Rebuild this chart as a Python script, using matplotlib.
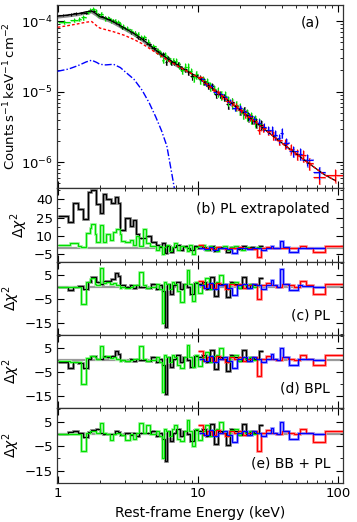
import numpy as np
import matplotlib
matplotlib.use("Agg")
import matplotlib.pyplot as plt
from matplotlib.ticker import FuncFormatter, FixedLocator, AutoMinorLocator

# ---- model curves, flux in units of 1e-5 counts/s/keV/cm2 ----
model_e = [1.0, 1.2, 1.4, 1.6, 1.75, 1.9, 2.0, 2.2, 2.5, 3.0, 3.5, 4.0, 5.0,
           6.0, 7.0, 8.0, 10, 15, 20, 30, 40, 50, 60, 80, 95]
model_total = [11.8, 12.3, 12.8, 13.6, 14.0, 12.6, 11.6, 11.0, 9.8, 8.0, 6.7,
               5.6, 3.9, 3.0, 2.45, 2.08, 1.6, 0.86, 0.55, 0.29, 0.185, 0.132,
               0.10, 0.066, 0.055]
model_pl = [8.2, 8.7, 9.2, 9.7, 9.9, 8.6, 8.0, 7.6, 7.1, 6.3, 5.5, 4.8, 3.6,
            2.85, 2.38, 2.05, 1.6, 0.86, 0.55, 0.29, 0.185, 0.132, 0.10,
            0.066, 0.055]
bb_e = [1.0, 1.2, 1.4, 1.6, 1.75, 1.9, 2.0, 2.2, 2.5, 2.8, 3.0, 3.5, 4.0, 4.5,
        5.0, 5.5, 6.0, 6.5, 7.0]
bb_flux = [1.95, 2.1, 2.35, 2.65, 2.8, 2.6, 2.45, 2.4, 2.45, 2.2, 1.95, 1.5,
           1.05, 0.69, 0.44, 0.28, 0.17, 0.07, 0.03]

# ---- black (pn) ----
blk_edges = [1.01, 1.19, 1.29, 1.40, 1.52, 1.65, 1.74, 1.89, 1.99, 2.11, 2.23,
             2.41, 2.55, 2.69, 2.77, 3.00, 3.26, 3.44, 3.63, 3.83, 4.27, 4.64,
             5.04, 5.3, 5.55, 5.8, 6.0, 6.3, 6.6, 7.0, 7.4, 7.8, 8.3, 8.8, 9.4,
             10.0, 10.7, 11.4, 12.2, 13.0, 13.9, 14.8, 15.8, 16.9, 18.0, 19.3,
             20.6, 22.0, 23.5, 25.2, 27.0, 29.0]
blk_flux = [12.2, 12.5, 12.9, 13.1, 13.3, 14.2, 14.0, 12.5, 11.9, 11.5, 10.9,
            10.2, 9.7, 9.1, 8.2, 7.8, 7.0, 6.8, 6.0, 5.6, 4.7, 4.2, 3.8, 3.45,
            3.4, 2.6, 3.0, 2.6, 2.6, 2.45, 2.15, 2.1, 1.9, 1.65, 1.72, 1.56,
            1.42, 1.22, 1.2, 0.92, 0.92, 0.84, 0.66, 0.71, 0.63, 0.55, 0.54,
            0.445, 0.41, 0.36, 0.34]
blk_relerr = [0.04, 0.04, 0.04, 0.04, 0.04, 0.04, 0.04, 0.04, 0.04, 0.04,
              0.045, 0.045, 0.05, 0.05, 0.05, 0.05, 0.055, 0.055, 0.055, 0.06,
              0.06, 0.065, 0.07, 0.07, 0.07, 0.08, 0.08, 0.08, 0.08, 0.09,
              0.09, 0.09, 0.1, 0.1, 0.1, 0.1, 0.11, 0.11, 0.11, 0.12, 0.12,
              0.12, 0.13, 0.13, 0.13, 0.14, 0.14, 0.15, 0.15, 0.16, 0.16]
blk_res_b = [26, 21, 37, 32, 24, 46, 47, 36, 29, 44, 40, 37, 42, 37, 15, 25,
             18, 23, 12, 8, 10, 5.5, 3, 1, 4, -4, 2, -3, 1, 3, -1, 2, 0.5, -1,
             2, 0.5, 1, -1, 2, -2, 1, 0.5, -3, 1, 0.5, -0.5, 2, 0, 1, 0.5, 1.5]
blk_res_c = [0, -1.5, -0.3, 0.3, -1, 1.8, 4, 2, 1, 2.5, 2.5, 3, 5.5, 4.5, 0.5,
             0, 0.5, -0.5, 0.5, 0, -0.5, 1, -1, 0.5, -2, -17, 1, -3, 0.5, 2,
             -1, 1, 0, -3, 1.5, 1, 2, -1, 4, -4, 1, 0.5, -4.5, 2, 1, -0.5, 4,
             -0.5, 1, 0.5, 3.5]
blk_res_d = [-0.8, -3.5, -0.8, -1.5, -3.5, 0.5, 1.5, 0.5, 0.3, 1.5, 1.2, 1.5,
             3.8, 2.5, 0, -0.5, 0.5, -0.5, 0.5, 0, -0.5, 1, -1, 0.5, -2, -14,
             1, -3, 0.5, 2, -1, 1, 0, -3, 1.5, 1, 2, -1, 4, -4, 1, 0.5, -4.5,
             2, 1, -0.5, 4, -0.5, 1, 0.5, 3.5]
blk_res_e = [0, 0.7, 1, 0.5, -1.2, 0.6, 1.6, 2, 0.2, 0, 0, 0, 1.2, 0.6, -0.3,
             0.3, -0.5, 0.5, -1, 0.5, 0.3, 1, -1, 0.5, -2, -11, 1, -3, 0.5, 2,
             -1, 1, 0, -3, 1.5, 1, 2, -1, 4, -4, 1, 0.5, -4.5, 2, 1, -0.5, 4,
             -0.5, 1, 0.5, 3.5]

# ---- green (MOS) ----
grn_edges = [1.01, 1.22, 1.40, 1.46, 1.60, 1.69, 1.74, 1.84, 1.89, 1.99, 2.11,
             2.23, 2.35, 2.48, 2.62, 2.77, 2.84, 3.00, 3.26, 3.44, 3.63, 3.83,
             4.05, 4.27, 4.52, 5.04, 5.25, 5.5, 5.7, 5.9, 6.2, 6.5, 6.8, 7.1,
             7.5, 7.9, 8.3, 8.7, 9.1, 9.5, 10.0, 10.6, 11.2, 11.9, 12.6, 13.4,
             14.2, 15.1, 16.0, 17.0, 18.1, 19.2, 20.4, 21.7, 23.1, 24.6, 26.2,
             28.0]
grn_flux = [9.8, 10.5, 10.8, 11.3, 13.5, 14.5, 15.0, 13.8, 12.3, 12.8, 11.0,
            11.2, 10.3, 10.2, 9.8, 9.0, 8.4, 7.8, 7.3, 6.7, 6.6, 5.9, 5.9, 5.1,
            4.4, 3.85, 3.5, 2.8, 3.3, 3.05, 2.75, 2.75, 2.7, 2.35, 2.0, 2.25,
            2.25, 1.95, 1.6, 1.76, 1.5, 1.45, 1.38, 1.2, 1.08, 1.0, 0.9, 0.88,
            0.75, 0.69, 0.64, 0.58, 0.50, 0.48, 0.43, 0.39, 0.35]
grn_relerr = [0.07, 0.07, 0.07, 0.07, 0.07, 0.07, 0.07, 0.07, 0.07, 0.07,
              0.07, 0.07, 0.07, 0.07, 0.07, 0.08, 0.08, 0.08, 0.08, 0.08,
              0.08, 0.09, 0.09, 0.09, 0.09, 0.1, 0.1, 0.1, 0.1, 0.1, 0.11,
              0.11, 0.11, 0.11, 0.12, 0.12, 0.12, 0.12, 0.13, 0.13, 0.13, 0.14,
              0.14, 0.14, 0.15, 0.15, 0.15, 0.16, 0.16, 0.17, 0.17, 0.18, 0.18,
              0.19, 0.19, 0.2, 0.2]
grn_res_b = [2.5, 4.3, 2, 1, 12.4, 16.5, 20, 12, 5, 19, 5, 12, 7, 13, 16, 12,
             6, 5, 7, 3, 10, 2, 16, 4, 2,
             -1, 2, -5, 1, 3, -2, 1, 4, -1, 2, 1, -2, 3, -5, 1, 2, 3, -1, 2, 1,
             -2, 0.5, 1.5, -1, 1, 2, 0, -1, 1, 0.5, 0, 1]
grn_res_c = [-0.3, -0.3, 0, -7.3, 2, 3, 3.5, 1, 0.5, 7.9, 1.5, 2, 1, 1.5, 0.5,
             -0.5, 0, -0.5, 0, 0.5, 0.5, 6, 0.5, -0.5, 0,
             1, -1, -15, 2, 1, -1, 2, 1, -2, -6.6, 1, 6.8, 1, -6, 2, -2.5, 1,
             3.4, -1, 1.5, 2, 4.7, 1, -1, 1.5, 2, -0.5, 1, 0.5, 1, 0, 0.5]
grn_res_d = [-0.3, -1, -1, -10, 0.8, 1.5, 1.5, 1, 0.5, 5.8, 1, 1.5, 0.8, 1,
             0.5, -0.5, 0, -0.5, 0, 0.5, 0.5, 5.8, 0.5, -0.5, 0,
             1, -1, -13.5, 2, 1, -1, 2, 1, -2, -3.5, 1, 6, 1, -3, 2, -2.5, 1,
             3.4, -1, 1.5, 2, 4.7, 1, -1, 1.5, 2, -0.5, 1, 0.5, 1, 0, 0.5]
grn_res_e = [0, 0, 0, -6.8, 0.5, 1, 1, 1, 0.5, 4.6, 0.5, 0, -2.7, 0, 0.5, 0,
             -0.5, -2.7, 0, -2, 0.5, 4.6, 0.5, 3.5, 0,
             1, -1, -10, 2, 1, -1, 2, 3.5, -2, -3, 1, 5.8, 1, -5, 2, -2.5, 1,
             3.4, -1, 1.5, 2, 4.7, 1, -1, 1.5, 2, -0.5, 1, 0.5, 1, 0, 0.5]

# ---- red (FPMA) ----
red_edges = [10.0, 10.8, 11.6, 12.5, 13.4, 14.4, 15.5, 16.7, 18.0, 19.4, 20.9,
             22.5, 24.2, 26.3, 28.0, 30.5, 33.0, 36.0, 39.5, 43.5, 48.0, 53.5,
             58.5, 66.0, 81.0, 112.0]
red_flux = [1.6, 1.34, 1.22, 1.05, 0.98, 0.87, 0.75, 0.70, 0.62, 0.555, 0.48,
            0.435, 0.39, 0.29, 0.31, 0.28, 0.24, 0.207, 0.182, 0.155, 0.13,
            0.125, 0.097, 0.062, 0.066]
red_relerr = [0.06, 0.06, 0.07, 0.07, 0.08, 0.08, 0.09, 0.09, 0.1, 0.1, 0.11,
              0.11, 0.12, 0.13, 0.13, 0.14, 0.15, 0.15, 0.16, 0.17, 0.18, 0.19,
              0.2, 0.2, 0.22]
red_res_b = [2.9, 0, 0.5, -0.5, 1, 0, -0.5, 0.5, 0, 1, 0, 0.5, -0.5, -6.7, 0.5,
             1, 0.5, 0, 0.5, 0.5, 0, 2, 0, -2.6, 1.5]
red_res_c = [2.5, -0.5, 1, -0.5, 1.5, 0.5, -1, 1, 0.5, 1, -0.5, 0.5, 1, -5.2,
             0.5, 1.5, 0.5, 0, 1, 0.5, 0, 2.5, 0.5, -3.1, 1.1]
red_res_d = [3.8, -0.5, 1, -0.5, 1.5, 0.5, -1, 1, 0.5, 1, -0.5, 0.5, 1, -6.9,
             0.5, 1.5, 0.5, 0, 1, 0.5, 0, 1.8, 0.5, -2.2, 1.8]
red_res_e = [3.5, -0.5, 1, -0.5, 1.5, 0.5, -1, 1, 0.5, 1, -0.5, 0.5, 1, -6.8,
             0.5, 1.5, 0.5, 0, 1, 0.5, 0, 2, 0.5, -3.4, 1.2]

# ---- blue (FPMB) ----
blu_edges = [10.2, 11.0, 11.9, 12.9, 13.9, 15.0, 16.2, 17.6, 19.1, 20.6, 22.3,
             24.1, 26.0, 28.2, 30.5, 32.9, 34.5, 36.5, 38.7, 40.1, 44.4, 51.4,
             55.0, 66.0, 81.0]
blu_flux = [1.5, 1.29, 1.2, 1.0, 0.93, 0.84, 0.72, 0.58, 0.58, 0.52, 0.45,
            0.41, 0.365, 0.315, 0.29, 0.285, 0.245, 0.22, 0.26, 0.19, 0.145,
            0.132, 0.109, 0.072]
blu_relerr = [0.06, 0.06, 0.07, 0.07, 0.08, 0.08, 0.09, 0.09, 0.1, 0.1, 0.11,
              0.11, 0.12, 0.13, 0.13, 0.14, 0.15, 0.15, 0.16, 0.17, 0.18, 0.19,
              0.2, 0.2]
blu_res_b = [0.5, -0.5, 1, -1, 0.5, 0.5, -0.5, -3.5, 0.5, 0.5, -0.5, 0.5, 0.5,
             -1, 0.5, 1.5, 0.5, 0, 5.6, 1, -2.6, 0.5, 0.3, 0]
blu_res_c = [0.5, -0.5, 1.5, -1, 0.5, 1, -0.5, -3.5, 0.5, 1, -0.5, 1, 0.5, -1,
             0.5, 2.8, 0.5, 0, 7.5, 1, -1.6, 0.5, 0.3, 0]
blu_res_d = [0.5, -0.5, 1.5, -1, 0.5, 1, -0.5, -3.5, 0.5, 1, -0.5, 1, 0.5, -1,
             0.5, 2.5, 0.5, 0, 5.1, 1, -2.2, 0.5, 0.3, 0]
blu_res_e = [0.5, -0.5, 1.5, -1, 0.5, 1, -0.5, -3.4, 0.5, 1, -0.5, 1, 0.5, -1,
             0.5, 2.5, 0.5, 0, 4.8, 1, -2.1, 0.5, 0.3, 0]

panel_labels = ["(b) PL extrapolated", "(c) PL", "(d) BPL", "(e) BB + PL"]

# (colour, shadow colour, edges, flux, relerr, [res b, c, d, e])
sets = [
    ("black", "#8c8c8c", blk_edges, blk_flux, blk_relerr,
     [blk_res_b, blk_res_c, blk_res_d, blk_res_e]),
    ("#00e000", "#a6f5a6", grn_edges, grn_flux, grn_relerr,
     [grn_res_b, grn_res_c, grn_res_d, grn_res_e]),
    ("red", "#ff9c9c", red_edges, red_flux, red_relerr,
     [red_res_b, red_res_c, red_res_d, red_res_e]),
    ("blue", "#9c9cff", blu_edges, blu_flux, blu_relerr,
     [blu_res_b, blu_res_c, blu_res_d, blu_res_e]),
]

plt.rcParams["font.size"] = 9
plt.rcParams["mathtext.fontset"] = "dejavusans"

W, H = 357, 522
fig = plt.figure(figsize=(W / 100, H / 100), dpi=100)
left, right = 57 / W, 343 / W
ax_top = fig.add_axes([left, 1 - 188 / H, right - left, 183 / H])
res_tops = [188, 261.5, 334.5, 408]
res_bots = [261.5, 334.5, 408, 483]
res_axes = [fig.add_axes([left, 1 - b / H, right - left, (b - t) / H],
                         sharex=ax_top)
            for t, b in zip(res_tops, res_bots)]

scale = 1e-5
xfmt = FuncFormatter(lambda v, p: f"{v:g}")


def style(ax):
    ax.tick_params(which="both", direction="in", top=True, right=True,
                   labelsize=9.5, pad=3)
    ax.tick_params(which="major", length=5, width=0.8)
    ax.tick_params(which="minor", length=2.5, width=0.6)
    for s in ax.spines.values():
        s.set_linewidth(0.9)
        s.set_color("#333333")


# ---- top panel: spectrum ----
for col, shade, edges, flux, rel, res in sets:
    e = np.array(edges)
    lo, hi = e[:-1], e[1:]
    cen = np.sqrt(lo * hi)
    f = np.array(flux) * scale
    err = f * np.array(rel)
    xerr = [cen - lo, hi - cen]
    ax_top.errorbar(cen * 1.015, f * 0.97, xerr=xerr, yerr=err, fmt="none",
                    ecolor=shade, elinewidth=1.5, zorder=2)
    ax_top.errorbar(cen, f, xerr=xerr, yerr=err, fmt="none", ecolor=col,
                    elinewidth=0.8, zorder=3)

me = np.array(model_e)
ax_top.plot(me[me < 10], np.array(model_total)[me < 10] * scale * 0.97,
            color="#8c8c8c", lw=2.2, zorder=2.5)
ax_top.plot(model_e, np.array(model_total) * scale, color="black", lw=0.9,
            zorder=4)
ax_top.plot(model_e, np.array(model_pl) * scale, color="red", lw=1.0,
            ls=(0, (2, 1.5)), zorder=4)
ax_top.plot(bb_e, np.array(bb_flux) * scale, color="blue", lw=1.0,
            ls=(0, (5, 1.5, 1, 1.5)), zorder=4)

ax_top.set_xscale("log")
ax_top.set_yscale("log")
ax_top.set_xlim(0.99, 108)
ax_top.set_ylim(4.3e-7, 1.7e-4)
ax_top.set_ylabel(r"Counts$\,$s$^{-1}\,$keV$^{-1}\,$cm$^{-2}$", fontsize=9.5,
                  labelpad=2)
ax_top.text(0.885, 0.905, "(a)", transform=ax_top.transAxes, ha="center",
            va="center", fontsize=10)
style(ax_top)
ax_top.tick_params(labelbottom=False)

# ---- residual panels ----
for i, ax in enumerate(res_axes):
    ax.axhline(0, color="#9a9a9a", lw=1.6, zorder=1)
    for col, shade, edges, flux, rel, res in sets:
        ax.stairs(res[i], edges, baseline=None, color=shade, lw=2.0,
                  zorder=2)
        ax.stairs(res[i], edges, baseline=None, color=col, lw=0.9, zorder=3)
    if i == 0:
        ax.set_ylim(-10.7, 49)
        ax.yaxis.set_major_locator(FixedLocator([-5, 10, 25, 40]))
        ax.text(0.955, 0.72, panel_labels[i], transform=ax.transAxes,
                ha="right", va="center", fontsize=10)
    else:
        ax.set_ylim(-20, 10.5)
        ax.yaxis.set_major_locator(FixedLocator([-15, -5, 5]))
        ax.text(0.955, 0.26, panel_labels[i], transform=ax.transAxes,
                ha="right", va="center", fontsize=10)
    ax.yaxis.set_minor_locator(AutoMinorLocator(2))
    ax.set_ylabel(r"$\Delta\chi^2$", fontsize=10, labelpad=2)
    style(ax)
    if i < 3:
        ax.tick_params(labelbottom=False)

res_axes[-1].xaxis.set_major_formatter(xfmt)
res_axes[-1].set_xlabel("Rest-frame Energy (keV)", fontsize=10)

fig.savefig("out.png", dpi=100)
